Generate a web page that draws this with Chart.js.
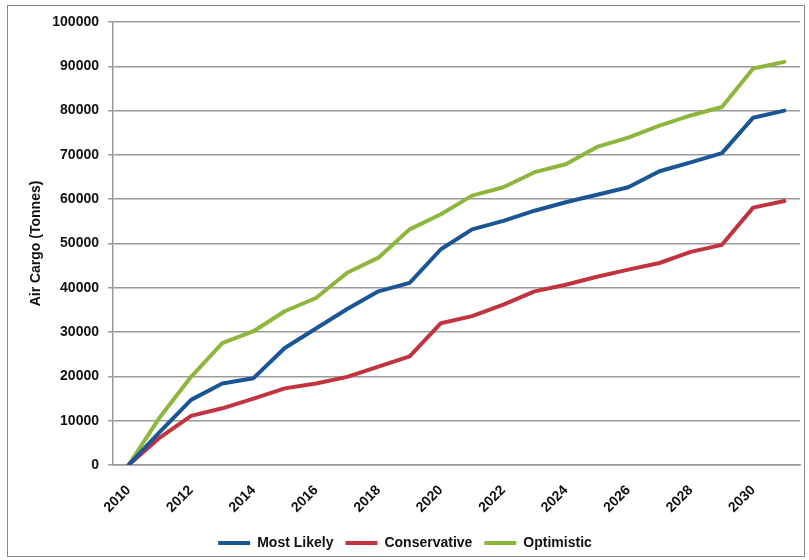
<!DOCTYPE html>
<html>
<head>
<meta charset="utf-8">
<script src="https://cdn.jsdelivr.net/npm/chart.js@4/dist/chart.umd.min.js"></script>
<style>
    body { margin: 0; background: #fff; }
    #wrap { position: relative; width: 809px; height: 560px; }
    #frame { position: absolute; left: 7px; top: 5px; width: 796px; height: 550px; border: 1px solid #8a8a8a; pointer-events: none; }
</style>
</head>
<body>
<div id="wrap">
    <canvas id="cargoChart" width="809" height="560"></canvas>
    <div id="frame"></div>
</div>
<script>
// datos (toneladas)
const years = ['2010', '2011', '2012', '2013', '2014', '2015', '2016', '2017', '2018', '2019', '2020',
    '2021', '2022', '2023', '2024', '2025', '2026', '2027', '2028', '2029', '2030', '2031'];
const mostLikely = [0, 7500, 14700, 18400, 19600, 26400, 30800, 35200, 39200, 41100, 48700,
    53200, 55100, 57400, 59300, 61000, 62700, 66300, 68300, 70400, 78400, 80000];
const conservative = [0, 6200, 11100, 12800, 15000, 17300, 18400, 19900, 22200, 24500, 32000,
    33600, 36200, 39200, 40700, 42500, 44100, 45600, 48100, 49700, 58100, 59600];
const optimistic = [0, 10800, 19900, 27500, 30200, 34700, 37700, 43400, 46800, 53200, 56600,
    60800, 62700, 66100, 67900, 71800, 73900, 76600, 78900, 80800, 89500, 91000];
const yTicks = [0, 10000, 20000, 30000, 40000, 50000, 60000, 70000, 80000, 90000, 100000];

const font = "'Liberation Sans', Arial, sans-serif";

function serie(label, data, color) {
    return {
        label: label,
        data: data,
        borderColor: color,
        backgroundColor: color,
        borderWidth: 4,
        pointRadius: 0,
        tension: 0,
        borderJoinStyle: 'round',
        borderCapStyle: 'round',
        fill: false
    };
}

const config = {
    type: 'line',
    data: {
        labels: years,
        datasets: [
            serie('Most Likely', mostLikely, '#1a5596'),
            serie('Conservative', conservative, '#c1343f'),
            serie('Optimistic', optimistic, '#8db63c')
        ]
    },
    options: {
        responsive: false,
        animation: false,
        layout: { padding: { left: 10, right: 9, top: 22, bottom: 0 } },
        plugins: {
            tooltip: { enabled: false },
            legend: {
                position: 'bottom',
                labels: {
                    usePointStyle: true,
                    pointStyle: 'line',
                    pointStyleWidth: 32,
                    color: '#111',
                    padding: 12,
                    font: { family: font, size: 14, weight: 'bold' }
                }
            }
        },
        scales: {
            x: {
                offset: true,
                grid: { display: false },
                border: { display: true, color: '#999', width: 1.5 },
                ticks: {
                    autoSkip: false,
                    maxRotation: 45,
                    minRotation: 45,
                    padding: 9,
                    color: '#111',
                    font: { family: font, size: 14, weight: 'bold' },
                    callback: (v, i) => i % 2 === 0 ? years[i] : ''
                },
                afterFit: (scale) => { scale.height = 59; }
            },
            y: {
                min: 0,
                max: 100000,
                afterBuildTicks: (scale) => { scale.ticks = yTicks.map(v => ({ value: v })); },
                grid: { color: '#9a9a9a', lineWidth: 1.5, tickLength: 5 },
                border: { display: true, color: '#999', width: 1.5 },
                ticks: {
                    padding: 9,
                    color: '#111',
                    font: { family: font, size: 14, weight: 'bold' },
                    callback: (v) => String(v)
                },
                title: {
                    display: true,
                    text: 'Air Cargo (Tonnes)',
                    color: '#111',
                    padding: { top: 18, bottom: 0 },
                    font: { family: font, size: 14, weight: 'bold' }
                },
                afterFit: (scale) => { scale.width = 103; }
            }
        }
    }
};

const chart = new Chart(document.getElementById('cargoChart'), config);
</script>
</body>
</html>
